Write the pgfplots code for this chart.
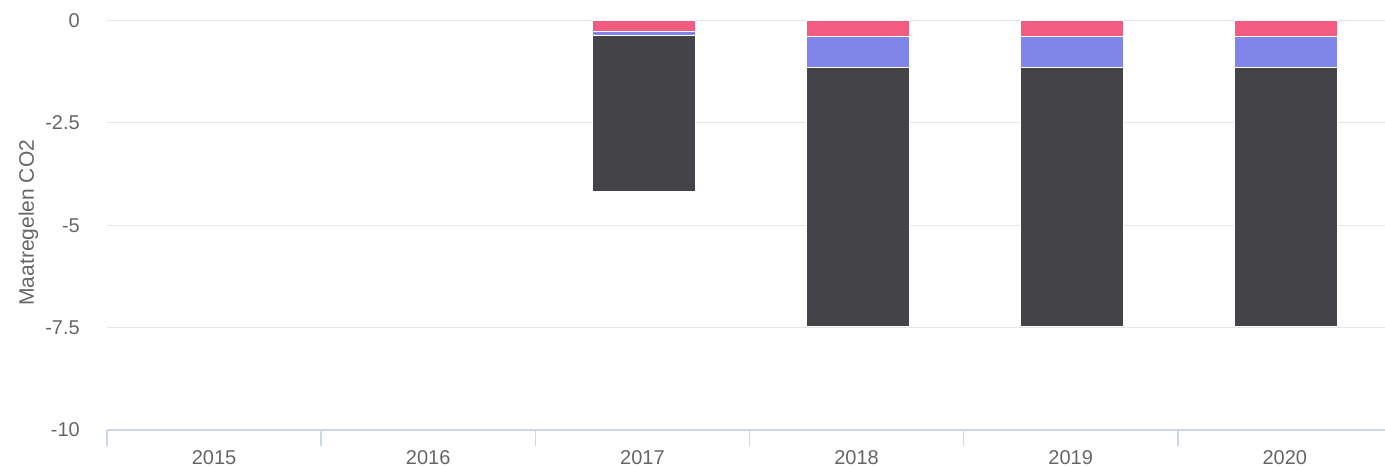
\documentclass[border=0pt]{standalone}
\usepackage{pgfplots}
\pgfplotsset{compat=1.18}
\usepackage{fontspec}
\setmainfont{Liberation Sans}
\definecolor{cpink}{HTML}{F15C80}
\definecolor{cblue}{HTML}{8085E9}
\definecolor{cdark}{HTML}{434348}
\definecolor{gridc}{HTML}{E6E6E6}
\definecolor{axc}{HTML}{CCD6EB}
\definecolor{txt}{HTML}{666666}
\begin{document}
\begin{tikzpicture}
\useasboundingbox (-107pt,-36pt) rectangle (1278pt,430pt);
\begin{axis}[
  at={(0,0)}, anchor=south west,
  scale only axis,
  width=1285pt, height=409.5pt,
  xmin=-0.5, xmax=5.5,
  ymin=-10, ymax=0,
  ybar stacked,
  bar width=103pt,
  bar shift=1.2pt,
  xtick={0,1,2,3,4,5},
  xticklabels={2015,2016,2017,2018,2019,2020},
  minor xtick={-0.5,0.5,1.5,2.5,3.5,4.5,5.5},
  ytick={-10,-7.5,-5,-2.5,0},
  yticklabels={-10,-7.5,-5,-2.5,0},
  major tick length=0pt,
  minor tick length=16pt,
  tick align=outside,
  minor tick style={draw=axc, line width=1.5pt},
  ymajorgrids,
  major grid style={draw=gridc, line width=1.2pt},
  axis x line*=bottom,
  axis y line*=left,
  y axis line style={draw=none},
  x axis line style={draw=axc, line width=1.5pt, -},
  xticklabel style={font=\fontsize{20}{24}\selectfont, text=txt, anchor=north, inner sep=0pt, yshift=-20pt},
  yticklabel style={font=\fontsize{20}{24}\selectfont, text=txt, anchor=east, inner sep=0pt, xshift=-27pt},
  every axis y label/.style={at={(axis description cs:-0.0611,0.506)}, rotate=90, anchor=center},
  ylabel={Maatregelen CO2},
  ylabel style={font=\fontsize{21}{25}\selectfont, text=txt},
]
\addplot[fill=cpink, draw=white, line width=1pt] coordinates {(2,-0.26) (3,-0.40) (4,-0.40) (5,-0.40)};
\addplot[fill=cblue, draw=white, line width=1pt] coordinates {(2,-0.10) (3,-0.74) (4,-0.74) (5,-0.74)};
\addplot[fill=cdark, draw=white, line width=1pt] coordinates {(2,-3.81) (3,-6.34) (4,-6.34) (5,-6.34)};
\end{axis}
\end{tikzpicture}
\end{document}
